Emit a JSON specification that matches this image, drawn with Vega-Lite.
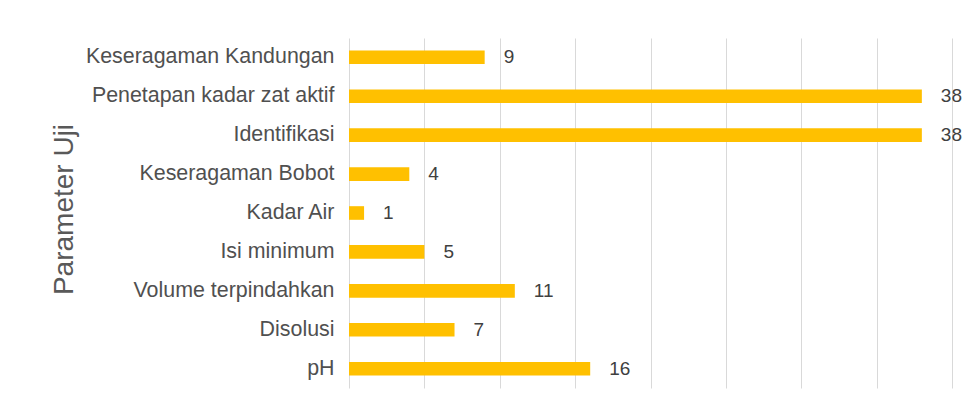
{
  "$schema": "https://vega.github.io/schema/vega-lite/v6.json",
  "width": 603,
  "height": 350,
  "autosize": {"type": "none"},
  "padding": {"left": 349, "top": 38, "right": 19, "bottom": 24},
  "background": "white",
  "data": {"values": [
    {"parameter": "Keseragaman Kandungan", "jumlah": 9},
    {"parameter": "Penetapan kadar zat aktif", "jumlah": 38},
    {"parameter": "Identifikasi", "jumlah": 38},
    {"parameter": "Keseragaman Bobot", "jumlah": 4},
    {"parameter": "Kadar Air", "jumlah": 1},
    {"parameter": "Isi minimum", "jumlah": 5},
    {"parameter": "Volume terpindahkan", "jumlah": 11},
    {"parameter": "Disolusi", "jumlah": 7},
    {"parameter": "pH", "jumlah": 16}
  ]},
  "config": {
    "view": {"stroke": null},
    "font": "Liberation Sans"
  },
  "encoding": {
    "y": {
      "field": "parameter", "type": "nominal", "sort": null,
      "scale": {"paddingInner": 0.65, "paddingOuter": 0.32},
      "axis": {
        "title": "Parameter Uji",
        "titleFont": "Liberation Sans",
        "titleFontSize": 28,
        "titleFontWeight": "normal",
        "titleColor": "#595959",
        "titleAngle": -90,
        "titleX": -285,
        "titleY": 171,
        "titleAlign": "center",
        "titleBaseline": "middle",
        "labelFont": "Liberation Sans",
        "labelFontSize": 21.4,
        "labelColor": "#505050",
        "labelPadding": 15,
        "ticks": false,
        "domain": false,
        "labelLimit": 400
      }
    },
    "x": {
      "field": "jumlah", "type": "quantitative",
      "scale": {"domain": [0, 40]},
      "axis": {
        "title": null,
        "labels": false,
        "ticks": false,
        "domain": false,
        "values": [0, 5, 10, 15, 20, 25, 30, 35, 40],
        "grid": true,
        "gridColor": "#d9d9d9",
        "gridWidth": 1
      }
    }
  },
  "layer": [
    {"mark": {"type": "bar", "color": "#FFC000"}},
    {
      "mark": {"type": "text", "align": "left", "baseline": "middle", "dx": 19, "fontSize": 19, "color": "#404040", "font": "Liberation Sans"},
      "encoding": {"text": {"field": "jumlah", "type": "quantitative"}}
    }
  ]
}
